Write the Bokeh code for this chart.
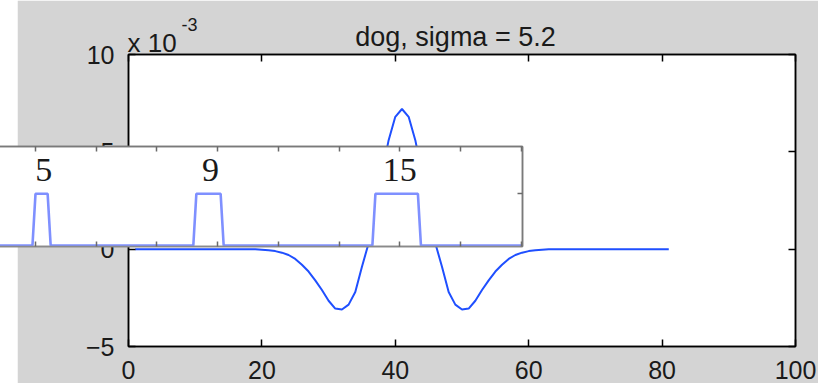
from bokeh.plotting import figure
from bokeh.models import LinearAxis, Range1d, FixedTicker, Label, Spacer
from bokeh.layouts import row
from bokeh.embed import file_html
from bokeh.resources import INLINE

# ---- main curve (values in units of 1e-3) ----
x_main = list(range(1, 82))
y_main = ([0.0] * 19 +
          [-0.03, -0.06, -0.1, -0.18, -0.3, -0.5, -0.8, -1.15, -1.6, -2.1, -2.65,
           -3.05, -3.1, -2.85, -2.2, -0.9, 0.3, 2.0, 3.9, 5.6, 6.8, 7.2,
           6.8, 5.6, 3.9, 2.0, 0.3, -0.9, -2.2, -2.85, -3.1, -3.05, -2.65,
           -2.1, -1.6, -1.15, -0.8, -0.5, -0.3, -0.18, -0.1, -0.06, -0.03] +
          [0.0] * 19)
x_ticks = [0, 20, 40, 60, 80, 100]
y_ticks = [-5, 0, 5, 10]
title_text = "dog, sigma = 5.2"
exp_base = "x 10"
exp_power = "-3"

# ---- inset pulse signal ----
sig_x = list(range(8, 182))
pulse_starts = [20, 73, 132]
pulse_widths = [5, 9, 15]
pulse_labels = ["5", "9", "15"]
label_x = [22.7, 77.7, 140.0]
inset_ticks = [20, 40, 60, 80, 100, 120, 140, 160, 180]
sig_y = []
for xv in sig_x:
    on = any(s <= xv < s + w for s, w in zip(pulse_starts, pulse_widths))
    sig_y.append(1.0 if on else 0.0)

GRAY = "#d4d4d4"
TXT = "#1a1a1a"
FONT = "Liberation Sans"

p = figure(frame_width=667, frame_height=292,
           min_border_left=111, min_border_right=23,
           min_border_top=54, min_border_bottom=37,
           x_range=Range1d(0, 100), y_range=Range1d(-5, 10),
           output_backend="svg", toolbar_location=None,
           background_fill_color="white", border_fill_color=GRAY,
           outline_line_color="black", outline_line_width=1.5)
p.grid.visible = False

def style_axis(ax, ticks, labels=True, standoff=12):
    ax.ticker = FixedTicker(ticks=ticks)
    ax.axis_line_color = "black"
    ax.axis_line_width = 1.5
    ax.major_tick_in = 7
    ax.major_tick_out = 0
    ax.major_tick_line_color = "black"
    ax.major_tick_line_width = 1.5
    ax.minor_tick_line_color = None
    if labels:
        ax.major_label_text_font = FONT
        ax.major_label_text_font_size = "25px"
        ax.major_label_text_color = TXT
        ax.major_label_standoff = standoff
    else:
        ax.major_label_text_color = None
        ax.major_label_text_font_size = "8px"
        ax.major_label_standoff = 0

style_axis(p.xaxis[0], x_ticks, standoff=14)
style_axis(p.yaxis[0], y_ticks, standoff=14)
top_ax = LinearAxis()
style_axis(top_ax, x_ticks, labels=False)
p.add_layout(top_ax, "above")
right_ax = LinearAxis()
style_axis(right_ax, y_ticks, labels=False)
p.add_layout(right_ax, "right")

p.line(x_main, y_main, line_color="#1f4fff", line_width=2)

main = row(Spacer(width=17, height=383), p)

# ---- inset (pasted plot) ----
ins = figure(frame_width=524, frame_height=100,
             min_border_left=0, min_border_right=30,
             min_border_top=30, min_border_bottom=30,
             x_range=Range1d(7.81, 180.46), y_range=Range1d(-0.019, 1.915),
             output_backend="svg", toolbar_location=None,
             x_axis_location=None, y_axis_location=None,
             background_fill_color="white", border_fill_color=None,
             outline_line_color="#7a7a7a", outline_line_width=1.5,
             styles={"position": "absolute", "left": "-2px", "top": "116px",
                     "z-index": "10"})
ins.grid.visible = False

def inset_axis(ax, ticks, line_color="#7a7a7a"):
    ax.ticker = FixedTicker(ticks=ticks)
    ax.axis_line_color = line_color
    ax.axis_line_width = 1.5
    ax.major_tick_in = 5
    ax.major_tick_out = 0
    ax.major_tick_line_color = "#6a6a6a"
    ax.major_tick_line_width = 1.5
    ax.minor_tick_line_color = None
    ax.major_label_text_color = None
    ax.major_label_text_font_size = "8px"
    ax.major_label_standoff = 0

a_top = LinearAxis()
inset_axis(a_top, inset_ticks)
ins.add_layout(a_top, "above")
a_bot = LinearAxis()
inset_axis(a_bot, inset_ticks, line_color="#8a8a8a")
ins.add_layout(a_bot, "below")
ra = LinearAxis()
inset_axis(ra, [1])
ins.add_layout(ra, "right")

ins.line(sig_x, sig_y, line_color="#7f90ff", line_width=2.6)
for lx, lt in zip(label_x, pulse_labels):
    ins.add_layout(Label(x=lx, y=1.46, text=lt, text_align="center",
                         text_baseline="alphabetic", text_font="Liberation Serif",
                         text_font_size="34px", text_color=TXT))

# ---- text overlay for title and exponent (pixel coordinates) ----
txt = figure(frame_width=818, frame_height=60,
             min_border=0, x_range=Range1d(0, 818), y_range=Range1d(60, 0),
             output_backend="svg", toolbar_location=None,
             x_axis_location=None, y_axis_location=None,
             background_fill_color=None, border_fill_color=None,
             outline_line_color=None,
             styles={"position": "absolute", "left": "0px", "top": "0px",
                     "z-index": "5"})
txt.grid.visible = False
txt.add_layout(Label(x=455, y=36, text=title_text, text_align="center",
                     text_baseline="alphabetic", text_font=FONT,
                     text_font_size="27px", text_color=TXT))
txt.add_layout(Label(x=127, y=42, text=exp_base, text_align="left",
                     text_baseline="alphabetic", text_font=FONT,
                     text_font_size="26px", text_color=TXT))
txt.add_layout(Label(x=181, y=24, text=exp_power, text_align="left",
                     text_baseline="alphabetic", text_font=FONT,
                     text_font_size="18px", text_color=TXT))

open("out.html", "w").write(file_html([main, ins, txt], INLINE))
